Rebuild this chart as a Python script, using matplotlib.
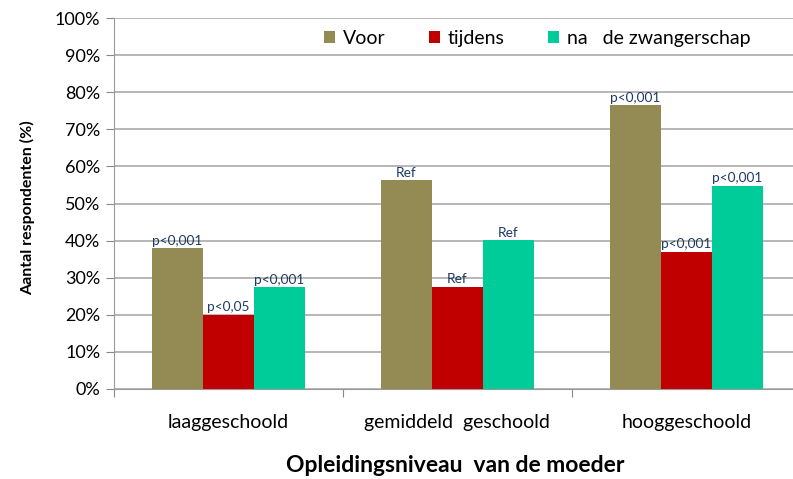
import matplotlib
matplotlib.use("Agg")
import matplotlib.pyplot as plt
import numpy as np

plt.rcParams['font.family'] = ['Lato', 'DejaVu Sans']

# data
categories = ["laaggeschoold", "gemiddeld  geschoold", "hooggeschoold"]
series = ["Voor", "tijdens", "na   de zwangerschap"]
voor = [38.0, 56.3, 76.5]
tijdens = [20.0, 27.6, 37.0]
na = [27.4, 40.1, 54.8]
labels_voor = ["p<0,001", "Ref", "p<0,001"]
labels_tijdens = ["p<0,05", "Ref", "p<0,001"]
labels_na = ["p<0,001", "Ref", "p<0,001"]
colors = ["#948A54", "#C00000", "#00CC99"]

fig = plt.figure(figsize=(7.93, 4.79), dpi=100)
ax = fig.add_axes([0.1438, 0.1879, 0.866, 0.7745])

x = np.arange(len(categories))
w = 0.223
values = [voor, tijdens, na]
labels = [labels_voor, labels_tijdens, labels_na]
for i, (vals, labs) in enumerate(zip(values, labels)):
    pos = x + (i - 1) * w
    ax.bar(pos, vals, width=w, color=colors[i], label=series[i], zorder=3)
    for px, v, t in zip(pos, vals, labs):
        ax.text(px, v + 0.4, t, ha='center', va='bottom', fontsize=9.8,
                color='#1F3B64', zorder=4)

ax.set_xlim(-0.5, 2.5)
ax.set_ylim(0, 100)
ax.set_yticks(np.arange(0, 101, 10))
ax.set_yticklabels([f"{v}%" for v in range(0, 101, 10)], fontsize=13)
ax.set_xticks([-0.5, 0.5, 1.5, 2.5])
ax.set_xticklabels([])
ax.set_xticks(x, minor=True)
ax.set_xticklabels(categories, minor=True, fontsize=14)
ax.tick_params(axis='x', which='minor', length=0, pad=18)
ax.tick_params(axis='x', which='major', length=6, color='#888888', direction='out')
ax.tick_params(axis='y', length=6, color='#888888', pad=4)

ax.grid(axis='y', color='#AAAAAA', linewidth=1.2, zorder=0)
for s in ['top', 'right']:
    ax.spines[s].set_visible(False)
ax.spines['left'].set_color('#999999')
ax.spines['bottom'].set_color('#999999')

ax.set_ylabel("Aantal respondenten (%)", fontsize=11.5, fontweight='bold')
ax.yaxis.set_label_coords(-0.115, 0.49)
ax.set_xlabel("Opleidingsniveau  van de moeder", fontsize=16.5, fontweight='bold')
ax.xaxis.set_label_coords(0.497, -0.178)

ax.legend(loc='upper left', bbox_to_anchor=(0.28, 1.015), ncol=3, frameon=False,
          fontsize=14, handlelength=0.6, handleheight=0.6, columnspacing=2.2,
          handletextpad=0.4)

fig.savefig("out.png", dpi=100)
